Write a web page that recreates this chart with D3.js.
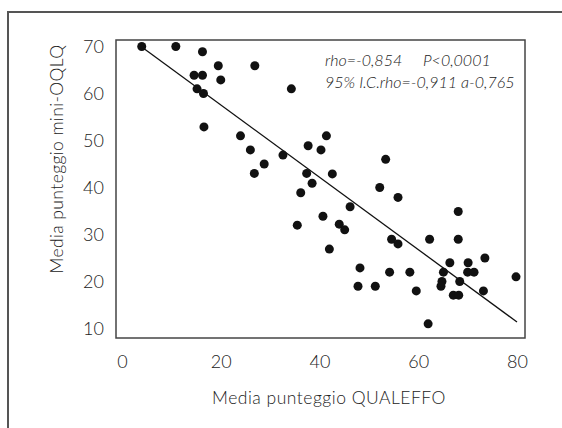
<!DOCTYPE html>
<html>
<head>
<meta charset="utf-8">
<script src="https://cdn.jsdelivr.net/npm/d3@7"></script>
<style>
  html, body { margin: 0; padding: 0; background: #fff; }
  svg { display: block; }
  text { font-family: Lato, "Open Sans", sans-serif; font-weight: 300; fill: #222; }
</style>
</head>
<body>
<svg id="chart" width="562" height="428"></svg>
<script>
// ---- data ----
const qualeffo = [4.0, 10.9, 16.3, 19.5, 26.9, 14.6, 16.3, 20.0, 15.2, 16.5, 34.3, 16.6, 24.0, 26.0, 41.4, 37.7, 40.3, 32.6, 28.8, 26.8,
  37.4, 42.6, 38.5, 36.2, 52.2, 55.9, 46.2, 40.7, 44.0, 45.1, 35.5, 42.0, 68.1, 54.6, 55.9, 62.3, 68.1, 66.4, 70.1, 73.5,
  48.2, 54.2, 58.3, 65.1, 70.0, 71.3, 79.8, 64.8, 68.4, 47.8, 51.3, 64.6, 59.6, 73.2, 67.1, 68.2, 62.0, 53.4];
const miniOQLQ = [70.1, 70.1, 69.0, 66.0, 66.0, 64.0, 64.0, 63.0, 61.1, 60.1, 61.1, 53.0, 51.1, 48.1, 51.1, 49.0, 48.1, 47.0, 45.1, 43.1,
  43.1, 43.0, 41.0, 39.0, 40.1, 38.0, 36.0, 34.0, 32.3, 31.1, 32.1, 27.0, 35.0, 29.1, 28.1, 29.1, 29.1, 24.1, 24.1, 25.1,
  23.0, 22.1, 22.1, 22.1, 22.1, 22.1, 21.1, 20.1, 20.1, 19.1, 19.1, 19.1, 18.1, 18.1, 17.2, 17.2, 11.1, 46.1];
const fitX = [4, 80];
const fitY = [70, 11.5];
const xTicks = [0, 20, 40, 60, 80];
const yTicks = [10, 20, 30, 40, 50, 60, 70];
const xTitle = "Media punteggio QUALEFFO";
const yTitle = "Media punteggio mini-OQLQ";
const note1a = "rho=-0,854";
const note1b = "P<0,0001";
const note2 = "95% I.C.rho=-0,911 a-0,765";

// ---- layout ----
const svg = d3.select("#chart");
const box = { left: 116, right: 525, top: 40, bottom: 338 };

const x = d3.scaleLinear().domain([0, 80]).range([122, 517]);
const y = d3.scaleLinear().domain([10, 70]).range([329, 47]);

// outer frame (open on right/bottom)
svg.append("path")
  .attr("d", `M8,428 L8,12 L562,12`)
  .attr("fill", "none").attr("stroke", "#555").attr("stroke-width", 2);

// plot box
svg.append("rect")
  .attr("x", box.left).attr("y", box.top)
  .attr("width", box.right - box.left).attr("height", box.bottom - box.top)
  .attr("fill", "none").attr("stroke", "#444").attr("stroke-width", 1.5);

// axes (labels only, no tick marks)
const xAxis = d3.axisBottom(x).tickValues(xTicks).tickSize(0).tickPadding(0).tickFormat(d3.format("d"));
const gx = svg.append("g").attr("transform", `translate(0,${box.bottom + 17})`).call(xAxis);
gx.select(".domain").remove();
gx.selectAll("text").attr("font-size", 18).attr("fill", "#222").attr("dy", "0.71em")
  .style("font-family", "Lato, sans-serif").style("font-weight", 300);

const yAxis = d3.axisLeft(y).tickValues(yTicks).tickSize(0).tickPadding(0).tickFormat(d3.format("d"));
const gy = svg.append("g").attr("transform", `translate(${box.left - 12},0)`).call(yAxis);
gy.select(".domain").remove();
gy.selectAll("text").attr("font-size", 18).attr("fill", "#222")
  .style("font-family", "Lato, sans-serif").style("font-weight", 300);

// titles
svg.append("text")
  .attr("x", 329).attr("y", 404)
  .attr("text-anchor", "middle").attr("font-size", 17.5)
  .attr("letter-spacing", 0.5)
  .text(xTitle);
svg.append("text")
  .attr("transform", "translate(63,159) rotate(-90)")
  .attr("text-anchor", "middle").attr("font-size", 17.5)
  .attr("letter-spacing", 0.4)
  .text(yTitle);

// regression line
svg.append("line")
  .attr("x1", x(fitX[0])).attr("y1", y(fitY[0]))
  .attr("x2", x(fitX[1])).attr("y2", y(fitY[1]))
  .attr("stroke", "#111").attr("stroke-width", 1.3);

// points
svg.append("g").selectAll("circle")
  .data(qualeffo.map((v, i) => [v, miniOQLQ[i]]))
  .join("circle")
  .attr("cx", d => x(d[0])).attr("cy", d => y(d[1]))
  .attr("r", 4.5).attr("fill", "#111");

// annotation
const n1 = svg.append("text")
  .attr("y", 66)
  .attr("font-size", 16).attr("font-style", "italic");
n1.append("tspan").attr("x", 325).text(note1a);
n1.append("tspan").attr("x", 423).text(note1b);
svg.append("text")
  .attr("x", 325).attr("y", 88)
  .attr("font-size", 16).attr("font-style", "italic")
  .text(note2);
</script>
</body>
</html>
